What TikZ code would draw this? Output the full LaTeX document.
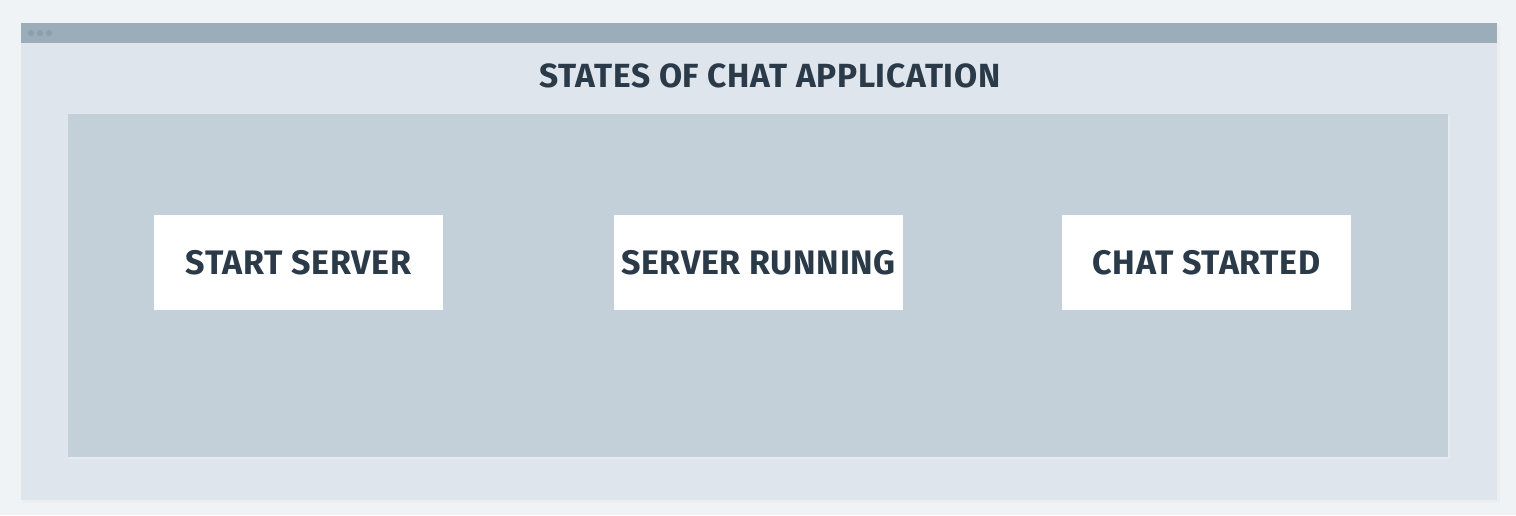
\documentclass[tikz,border=0pt]{standalone}
\usepackage{fontspec}
\setmainfont{Fira Sans}[LetterSpace=2]
\definecolor{bgc}{HTML}{EFF3F6}
\definecolor{winc}{HTML}{DFE5EC}
\definecolor{barc}{HTML}{9CADBA}
\definecolor{dotc}{HTML}{8D9EAC}
\definecolor{panelc}{HTML}{C3D0DA}
\definecolor{txtc}{HTML}{2B3A48}
\tikzset{
  statebox/.style={fill=white, draw=none, minimum width=289pt, minimum height=95pt, inner sep=0pt, font=\fontsize{34}{40}\selectfont\bfseries, text=txtc},
  titletext/.style={font=\fontsize{33.5}{40}\selectfont\bfseries, text=txtc, inner sep=0pt}
}
\begin{document}
\begin{tikzpicture}[x=1pt,y=-1pt]
\fill[bgc] (0,0) rectangle (1516,515);
\useasboundingbox (0,0) rectangle (1516,515);
\fill[black!8, opacity=0.6] (22,25) rectangle (1500,503);
\fill[winc] (21,23) rectangle (1497,500);
\fill[barc] (21,23) rectangle (1497,43);
\foreach \x in {31,40,49} \fill[dotc] (\x,33) circle (3.2);
\node[titletext] (title) at (770,76) {STATES OF CHAT APPLICATION};
\fill[black!6, opacity=0.5] (69,116) rectangle (1450,459);
\fill[panelc] (68,114) rectangle (1448,457);
\node[statebox] (s1) at (298.5,262.5) {START SERVER};
\node[statebox] (s2) at (758.5,262.5) {SERVER RUNNING};
\node[statebox] (s3) at (1206.5,262.5) {CHAT STARTED};
\end{tikzpicture}
\end{document}
